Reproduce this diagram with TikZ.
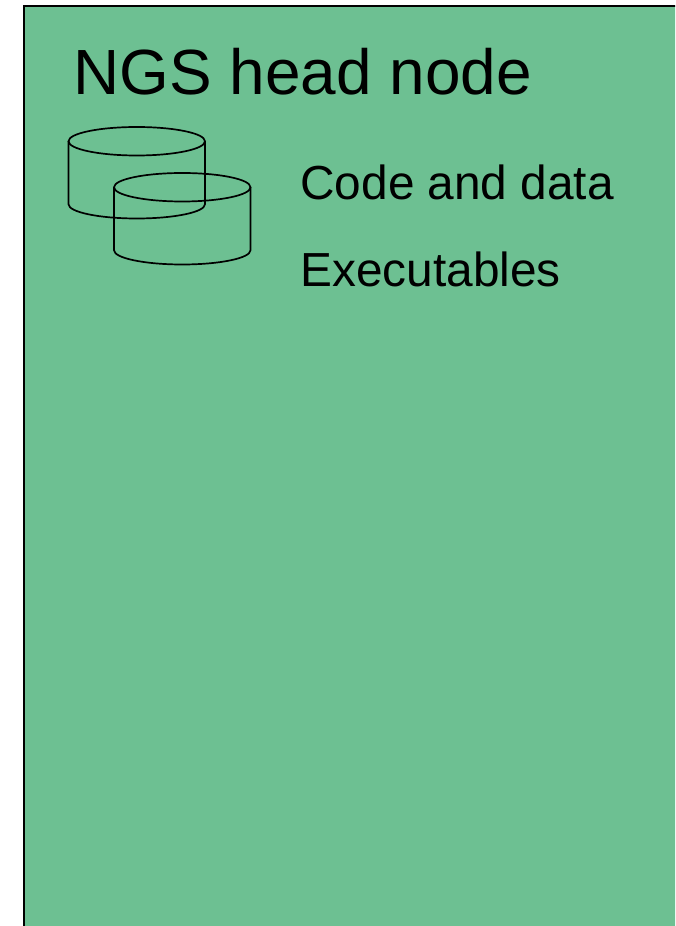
\documentclass[tikz,border=0pt]{standalone}
\usepackage{fontspec}
\setmainfont{Liberation Sans}
\tikzset{
  hostbox/.style={draw=black,line width=0.04cm,fill=hostgreen},
  disk/.pic={
    %% Top ellipse and body
    \draw[line width=0.034cm] (0,0) ellipse (1.365 and 0.285);
    \draw[line width=0.034cm] (-1.365,0) -- (-1.365,-1.26) arc (180:360:1.365 and 0.285) -- (1.365,0);
  },
  title/.style={anchor=base west,inner sep=0pt,font=\fontsize{36.35pt}{40pt}\selectfont},
  label/.style={anchor=base west,inner sep=0pt,font=\fontsize{27.2pt}{30pt}\selectfont}
}
\definecolor{hostgreen}{RGB}{109,192,146}
\begin{document}
\begin{tikzpicture}
    \useasboundingbox (0,0) rectangle (13.5,18.52);
    \clip (0,0) rectangle (13.5,18.52);
    %% Head node box
    \draw[hostbox] (0.47,-1) rectangle (14.5,18.4);
    %% Title
    \node[title] (headnode) at (1.47,16.62) {NGS head node};
    %% Disks
    \pic (codedisk) at (2.735,15.695) {disk};
    \pic (exedisk) at (3.645,14.775) {disk};
    %% Labels
    \node[label] (codelabel) at (6.0,14.52) {Code and data};
    \node[label] (exelabel) at (6.0,12.78) {Executables};
\end{tikzpicture}
\end{document}
